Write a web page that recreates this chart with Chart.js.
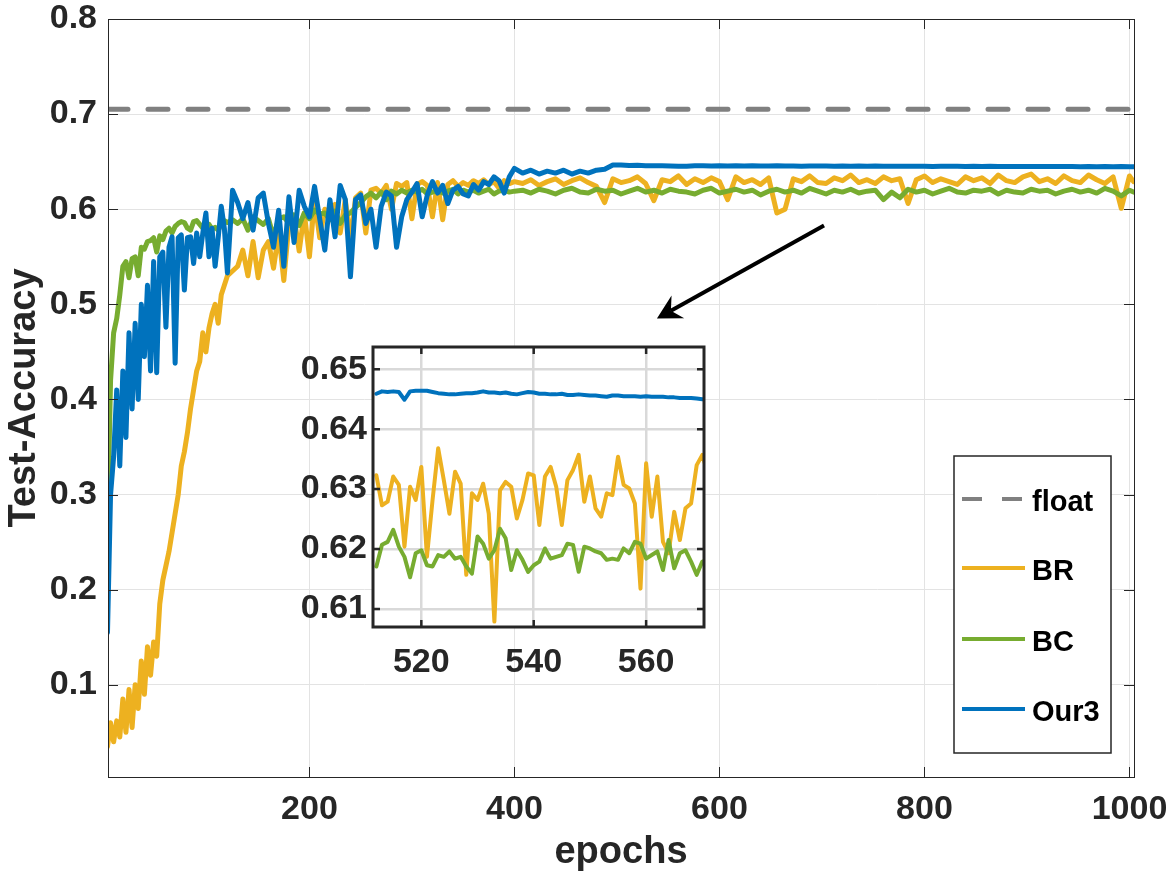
<!DOCTYPE html>
<html>
<head>
<meta charset="utf-8">
<script src="https://cdn.jsdelivr.net/npm/chart.js@4.4.1/dist/chart.umd.min.js"></script>
<style>
  body { margin: 0; background: #fff; }
  #wrap { position: relative; width: 1167px; height: 875px; }
  #main { position: absolute; left: 0; top: 0; }
  #inset { position: absolute; left: 280px; top: 335px; }
</style>
</head>
<body>
<div id="wrap">
  <canvas id="main" width="1167" height="875"></canvas>
  <canvas id="inset" width="440" height="360"></canvas>
</div>
<script>
// ---- main plot data (epoch grid + test accuracy) ----
let epochs = [
  3,6,9,12,15,18,21,24,
  27,30,33,36,39,42,45,48,
  51,54,57,60,63,66,69,72,
  75,78,81,84,87,90,93,96,
  99,102,105,108,111,114,117,120,
  125,130,135,140,145,150,155,160,
  165,170,175,180,185,190,195,200,
  205,210,215,220,225,230,235,240,
  245,250,255,260,265,270,275,280,
  285,290,295,300,305,310,315,320,
  325,330,335,340,345,350,355,360,
  365,370,375,380,385,390,395,400,
  408,416,424,432,440,448,456,464,
  472,480,488,496,504,512,520,528,
  536,544,552,560,568,576,584,592,
  600,608,616,624,632,640,648,656,
  664,672,680,688,696,704,712,720,
  728,736,744,752,760,768,776,784,
  792,800,808,816,824,832,840,848,
  856,864,872,880,888,896,904,912,
  920,928,936,944,952,960,968,976,
  984,992,1000,1004
];

let accBR = [
  0.035,0.06,0.04,0.062,0.045,0.085,0.05,0.095,
  0.055,0.1,0.075,0.125,0.09,0.14,0.11,0.145,
  0.13,0.185,0.21,0.225,0.24,0.26,0.28,0.3,
  0.33,0.345,0.365,0.39,0.41,0.43,0.44,0.47,
  0.45,0.475,0.49,0.5,0.48,0.51,0.52,0.53,
  0.535,0.54,0.557,0.53,0.566,0.528,0.557,0.566,
  0.538,0.575,0.525,0.585,0.592,0.556,0.596,0.55,
  0.61,0.57,0.6,0.592,0.605,0.575,0.61,0.568,
  0.612,0.617,0.575,0.62,0.622,0.617,0.625,0.6,
  0.627,0.624,0.628,0.59,0.626,0.629,0.625,0.592,
  0.628,0.589,0.626,0.63,0.624,0.628,0.625,0.63,
  0.627,0.631,0.626,0.629,0.622,0.63,0.627,0.629,
  0.627,0.631,0.625,0.629,0.632,0.626,0.63,0.633,
  0.628,0.624,0.607,0.632,0.628,0.63,0.634,0.627,
  0.609,0.631,0.629,0.635,0.626,0.632,0.628,0.633,
  0.629,0.61,0.634,0.628,0.631,0.626,0.633,0.596,
  0.6,0.632,0.629,0.635,0.628,0.627,0.633,0.63,
  0.636,0.628,0.631,0.627,0.634,0.63,0.632,0.606,
  0.631,0.635,0.628,0.632,0.629,0.626,0.634,0.63,
  0.633,0.627,0.636,0.63,0.628,0.634,0.637,0.629,
  0.632,0.627,0.635,0.63,0.628,0.636,0.631,0.627,
  0.634,0.601,0.635,0.629
];

let accBC = [
  0.27,0.42,0.47,0.485,0.51,0.54,0.545,0.528,
  0.548,0.55,0.53,0.56,0.558,0.566,0.567,0.57,
  0.555,0.572,0.568,0.577,0.58,0.575,0.582,0.585,
  0.587,0.586,0.58,0.578,0.587,0.588,0.584,0.58,
  0.582,0.584,0.579,0.581,0.578,0.584,0.588,0.586,
  0.589,0.585,0.59,0.578,0.592,0.588,0.584,0.59,
  0.571,0.59,0.592,0.585,0.594,0.583,0.596,0.59,
  0.599,0.595,0.596,0.589,0.598,0.585,0.594,0.596,
  0.602,0.607,0.613,0.617,0.612,0.618,0.61,0.619,
  0.616,0.62,0.617,0.62,0.618,0.621,0.616,0.618,
  0.62,0.617,0.619,0.621,0.616,0.62,0.618,0.62,
  0.617,0.619,0.621,0.616,0.619,0.62,0.618,0.619,
  0.62,0.617,0.621,0.619,0.616,0.62,0.622,0.618,
  0.617,0.621,0.619,0.62,0.616,0.619,0.622,0.618,
  0.62,0.617,0.621,0.619,0.618,0.616,0.62,0.622,
  0.617,0.619,0.621,0.618,0.62,0.615,0.619,0.621,
  0.618,0.62,0.617,0.622,0.619,0.616,0.62,0.618,
  0.621,0.617,0.619,0.62,0.61,0.618,0.612,0.621,
  0.618,0.62,0.616,0.619,0.622,0.618,0.617,0.62,
  0.619,0.621,0.616,0.62,0.618,0.617,0.621,0.619,
  0.62,0.616,0.619,0.621,0.618,0.62,0.617,0.622,
  0.619,0.614,0.62,0.618
];

let accOur3 = [
  0.155,0.30,0.34,0.41,0.33,0.43,0.36,0.47,
  0.39,0.48,0.40,0.50,0.445,0.52,0.43,0.545,
  0.428,0.55,0.555,0.476,0.56,0.571,0.438,0.57,
  0.573,0.515,0.57,0.571,0.543,0.575,0.55,0.575,
  0.596,0.55,0.58,0.54,0.57,0.603,0.58,0.533,
  0.62,0.607,0.59,0.607,0.578,0.612,0.617,0.585,
  0.56,0.599,0.54,0.613,0.565,0.62,0.603,0.592,
  0.624,0.59,0.557,0.61,0.571,0.625,0.61,0.529,
  0.61,0.615,0.585,0.6,0.56,0.603,0.618,0.614,
  0.56,0.592,0.61,0.618,0.627,0.592,0.615,0.629,
  0.617,0.625,0.606,0.62,0.624,0.616,0.614,0.626,
  0.62,0.629,0.626,0.634,0.63,0.617,0.634,0.643,
  0.638,0.641,0.637,0.64,0.638,0.641,0.637,0.64,
  0.638,0.641,0.642,0.6465,0.6466,0.6459,0.6461,0.6458,
  0.6457,0.6456,0.6454,0.6453,0.6451,0.6456,0.6458,0.6455,
  0.6456,0.6454,0.6456,0.6455,0.6457,0.6454,0.6455,0.6456,
  0.6454,0.6455,0.6453,0.6455,0.6454,0.6455,0.6453,0.6454,
  0.6452,0.6454,0.6453,0.6454,0.6452,0.6453,0.6452,0.6453,
  0.6451,0.6452,0.645,0.6452,0.6451,0.6452,0.645,0.6451,
  0.645,0.6451,0.6449,0.645,0.6449,0.645,0.6449,0.645,
  0.6448,0.6449,0.6448,0.6449,0.6447,0.6448,0.6447,0.6448,
  0.6447,0.6448,0.6447,0.6447
];

let floatAcc = 0.705;

let xTicks = [200, 400, 600, 800, 1000];
let yTicks = [0.1, 0.2, 0.3, 0.4, 0.5, 0.6, 0.7, 0.8];
let yTickLabels = ["0.1","0.2","0.3","0.4","0.5","0.6","0.7","0.8"];

// ---- zoomed inset data (epochs 512..571) ----
let zoomEpochs = [
  512,513,514,515,516,517,518,519,520,521,
  522,523,524,525,526,527,528,529,530,531,
  532,533,534,535,536,537,538,539,540,541,
  542,543,544,545,546,547,548,549,550,551,
  552,553,554,555,556,557,558,559,560,561,
  562,563,564,565,566,567,568,569,570,571
];

let zoomBR = [
  0.6323,0.6273,0.6279,0.6321,0.6307,0.6204,0.6304,0.6282,0.6337,0.6187,
  0.6282,0.6368,0.6315,0.6259,0.6329,0.6309,0.6157,0.6293,0.6282,0.6309,
  0.6259,0.6079,0.6298,0.6312,0.6304,0.6251,0.6282,0.6326,0.6323,0.6240,
  0.6321,0.6337,0.6304,0.6240,0.6315,0.6332,0.6357,0.6279,0.6321,0.6268,
  0.6254,0.6293,0.6290,0.6354,0.6307,0.6301,0.6276,0.6134,0.6343,0.6254,
  0.6321,0.6212,0.6193,0.6262,0.6215,0.6268,0.6276,0.6340,0.6357,0.6326
];

let zoomBC = [
  0.6171,0.6207,0.6212,0.6232,0.6204,0.6187,0.6153,0.6193,0.6198,0.6173,
  0.6171,0.6190,0.6187,0.6196,0.6184,0.6187,0.6171,0.6159,0.6221,0.6209,
  0.6184,0.6198,0.6234,0.6218,0.6165,0.6198,0.6182,0.6162,0.6173,0.6179,
  0.6201,0.6184,0.6187,0.6190,0.6209,0.6207,0.6162,0.6204,0.6201,0.6196,
  0.6193,0.6182,0.6184,0.6182,0.6201,0.6193,0.6212,0.6209,0.6184,0.6190,
  0.6196,0.6165,0.6215,0.6168,0.6193,0.6198,0.6179,0.6157,0.6179,0.6182
];

let zoomOur3 = [
  0.6459,0.6463,0.6462,0.6463,0.6462,0.6449,0.6463,0.6464,0.6464,0.6464,
  0.6462,0.6460,0.6459,0.6458,0.6458,0.6459,0.6460,0.6460,0.6461,0.6463,
  0.6461,0.6461,0.6460,0.6461,0.6459,0.6458,0.6460,0.6462,0.6461,0.6459,
  0.6459,0.6458,0.6458,0.6459,0.6457,0.6457,0.6458,0.6457,0.6456,0.6456,
  0.6455,0.6454,0.6456,0.6456,0.6455,0.6455,0.6455,0.6454,0.6455,0.6454,
  0.6454,0.6454,0.6453,0.6453,0.6452,0.6452,0.6452,0.6451,0.6450,0.6450
];

let zoomXTicks = [520, 540, 560];
let zoomYTicks = [0.61, 0.62, 0.63, 0.64, 0.65];
let zoomYTickLabels = ["0.61","0.62","0.63","0.64","0.65"];

let seriesNames = ["float", "BR", "BC", "Our3"];
let seriesColors = ["#808080", "#EDB120", "#77AC30", "#0072BD"];

// arrow from the main curves down to the inset, in data units
let arrowFrom = [702, 0.583];
let arrowTo = [539, 0.485];

Chart.defaults.font.family = "'Liberation Sans', Arial, Helvetica, sans-serif";
Chart.defaults.font.weight = "bold";
Chart.defaults.color = "#262626";

function toPoints(xs, ys){
  return xs.map(function(x, i){
    return { x: x, y: ys[i] };
  });
}

// keep tick labels from pushing the plot area around
function fixSize(w, h){
  return function(s){
    if(w !== null) s.width = w;
    if(h !== null) s.height = h;
    s.paddingLeft = 0;
    s.paddingRight = 0;
    s.paddingTop = 0;
    s.paddingBottom = 0;
  };
}

let axisColor = "#262626";

// box, inner tick marks, legend and arrow for the main axes
let mainDecor = {
  id: "mainDecor",
  afterDraw: function(chart){
    let ctx = chart.ctx;
    let a = chart.chartArea;
    let xs = chart.scales.x;
    let ys = chart.scales.y;

    ctx.save();
    ctx.strokeStyle = axisColor;
    ctx.lineWidth = 1;
    ctx.strokeRect(Math.round(a.left) + 0.5, Math.round(a.top) + 0.5,
      Math.round(a.right - a.left), Math.round(a.bottom - a.top));

    ctx.beginPath();
    xTicks.forEach(function(t){
      let px = Math.round(xs.getPixelForValue(t)) + 0.5;
      ctx.moveTo(px, a.bottom); ctx.lineTo(px, a.bottom - 10);
      ctx.moveTo(px, a.top); ctx.lineTo(px, a.top + 10);
    });
    yTicks.forEach(function(t){
      let py = Math.round(ys.getPixelForValue(t)) + 0.5;
      ctx.moveTo(a.left, py); ctx.lineTo(a.left + 10, py);
      ctx.moveTo(a.right, py); ctx.lineTo(a.right - 10, py);
    });
    ctx.stroke();

    // arrow
    let x1 = xs.getPixelForValue(arrowFrom[0]);
    let y1 = ys.getPixelForValue(arrowFrom[1]);
    let x2 = xs.getPixelForValue(arrowTo[0]);
    let y2 = ys.getPixelForValue(arrowTo[1]);
    let len = Math.hypot(x1 - x2, y1 - y2);
    let ux = (x1 - x2) / len, uy = (y1 - y2) / len;
    let px = -uy, py = ux;
    let L = 24, W = 13, N = 16;
    ctx.strokeStyle = "#000";
    ctx.fillStyle = "#000";
    ctx.lineWidth = 4;
    ctx.lineCap = "butt";
    ctx.beginPath();
    ctx.moveTo(x1, y1);
    ctx.lineTo(x2 + ux * N, y2 + uy * N);
    ctx.stroke();
    ctx.beginPath();
    ctx.moveTo(x2, y2);
    ctx.lineTo(x2 + ux * L + px * W, y2 + uy * L + py * W);
    ctx.lineTo(x2 + ux * N, y2 + uy * N);
    ctx.lineTo(x2 + ux * L - px * W, y2 + uy * L - py * W);
    ctx.closePath();
    ctx.fill();

    // legend
    let lx = 954, ly = 456, lw = 157, lh = 297;
    ctx.fillStyle = "#fff";
    ctx.fillRect(lx, ly, lw, lh);
    ctx.strokeStyle = axisColor;
    ctx.lineWidth = 1.5;
    ctx.strokeRect(lx, ly, lw, lh);
    let rows = [499, 568, 639, 709];
    ctx.font = "bold 29px 'Liberation Sans', Arial, sans-serif";
    ctx.textBaseline = "alphabetic";
    ctx.textAlign = "left";
    seriesNames.forEach(function(name, i){
      ctx.strokeStyle = seriesColors[i];
      ctx.lineWidth = 4;
      ctx.setLineDash(i === 0 ? [20, 20] : []);
      ctx.beginPath();
      ctx.moveTo(962, rows[i]);
      ctx.lineTo(1025, rows[i]);
      ctx.stroke();
      ctx.setLineDash([]);
      ctx.fillStyle = "#000";
      ctx.fillText(name, 1032, rows[i] + 12);
    });
    ctx.restore();
  }
};

let mainChart = new Chart(document.getElementById("main"), {
  type: "line",
  data: {
    datasets: [
      {
        label: seriesNames[0],
        data: [{ x: 3.5, y: floatAcc }, { x: 1004.4, y: floatAcc }],
        borderColor: seriesColors[0],
        borderWidth: 5,
        borderDash: [20, 20],
        order: 3
      },
      {
        label: seriesNames[1],
        data: toPoints(epochs, accBR),
        borderColor: seriesColors[1],
        borderWidth: 5,
        order: 2
      },
      {
        label: seriesNames[2],
        data: toPoints(epochs, accBC),
        borderColor: seriesColors[2],
        borderWidth: 5,
        order: 1
      },
      {
        label: seriesNames[3],
        data: toPoints(epochs, accOur3),
        borderColor: seriesColors[3],
        borderWidth: 5,
        order: 0
      }
    ]
  },
  options: {
    responsive: false,
    animation: false,
    devicePixelRatio: 1,
    layout: { padding: { left: 0, top: 19, right: 33, bottom: 0 } },
    elements: {
      point: { radius: 0 },
      line: { tension: 0, borderJoinStyle: "round", borderCapStyle: "round" }
    },
    plugins: { legend: { display: false }, tooltip: { enabled: false } },
    scales: {
      x: {
        type: "linear",
        min: 3.5,
        max: 1004.4,
        afterFit: fixSize(null, 98),
        afterBuildTicks: function(s){ s.ticks = xTicks.map(function(v){ return { value: v }; }); },
        grid: { color: "#e3e3e3", lineWidth: 1, drawTicks: false },
        border: { display: false },
        ticks: {
          padding: 12,
          autoSkip: false,
          maxRotation: 0,
          color: "#262626",
          font: { size: 34, weight: "bold" },
          callback: function(v){ return String(v); }
        },
        title: {
          display: true,
          text: "epochs",
          color: "#262626",
          font: { size: 38, weight: "bold" },
          padding: 0
        }
      },
      y: {
        type: "linear",
        min: 0.003,
        max: 0.8,
        afterFit: fixSize(108, null),
        afterBuildTicks: function(s){ s.ticks = yTicks.map(function(v){ return { value: v }; }); },
        grid: { color: "#e3e3e3", lineWidth: 1, drawTicks: false },
        border: { display: false },
        ticks: {
          padding: 11,
          autoSkip: false,
          color: "#262626",
          font: { size: 34, weight: "bold" },
          callback: function(v, i){ return yTickLabels[i]; }
        },
        title: {
          display: true,
          text: "Test-Accuracy",
          color: "#262626",
          font: { size: 38, weight: "bold" },
          padding: 2
        }
      }
    }
  },
  plugins: [mainDecor]
});

// white face, thick box and inner ticks for the inset
let insetDecor = {
  id: "insetDecor",
  beforeDraw: function(chart){
    let a = chart.chartArea;
    chart.ctx.save();
    chart.ctx.fillStyle = "#fff";
    chart.ctx.fillRect(a.left, a.top, a.right - a.left, a.bottom - a.top);
    chart.ctx.restore();
  },
  afterDraw: function(chart){
    let ctx = chart.ctx;
    let a = chart.chartArea;
    let xs = chart.scales.x;
    let ys = chart.scales.y;
    ctx.save();
    ctx.strokeStyle = axisColor;
    ctx.lineWidth = 3;
    ctx.strokeRect(a.left, a.top, a.right - a.left, a.bottom - a.top);
    ctx.lineWidth = 2.5;
    ctx.beginPath();
    zoomXTicks.forEach(function(t){
      let px = xs.getPixelForValue(t);
      ctx.moveTo(px, a.bottom); ctx.lineTo(px, a.bottom - 7);
      ctx.moveTo(px, a.top); ctx.lineTo(px, a.top + 7);
    });
    zoomYTicks.forEach(function(t){
      let py = ys.getPixelForValue(t);
      ctx.moveTo(a.left, py); ctx.lineTo(a.left + 7, py);
      ctx.moveTo(a.right, py); ctx.lineTo(a.right - 7, py);
    });
    ctx.stroke();
    ctx.restore();
  }
};

let insetChart = new Chart(document.getElementById("inset"), {
  type: "line",
  data: {
    datasets: [
      { label: seriesNames[1], data: toPoints(zoomEpochs, zoomBR), borderColor: seriesColors[1], borderWidth: 4, order: 2 },
      { label: seriesNames[2], data: toPoints(zoomEpochs, zoomBC), borderColor: seriesColors[2], borderWidth: 4, order: 1 },
      { label: seriesNames[3], data: toPoints(zoomEpochs, zoomOur3), borderColor: seriesColors[3], borderWidth: 4, order: 0 }
    ]
  },
  options: {
    responsive: false,
    animation: false,
    devicePixelRatio: 1,
    layout: { padding: { left: 0, top: 12, right: 16, bottom: 0 } },
    elements: {
      point: { radius: 0 },
      line: { tension: 0, borderJoinStyle: "round", borderCapStyle: "round" }
    },
    plugins: { legend: { display: false }, tooltip: { enabled: false } },
    scales: {
      x: {
        type: "linear",
        min: 511.4,
        max: 570.3,
        afterFit: fixSize(null, 68),
        afterBuildTicks: function(s){ s.ticks = zoomXTicks.map(function(v){ return { value: v }; }); },
        grid: { color: "#d9d9d9", lineWidth: 2.5, drawTicks: false },
        border: { display: false },
        ticks: {
          padding: 15,
          autoSkip: false,
          maxRotation: 0,
          color: "#262626",
          font: { size: 34, weight: "bold" },
          callback: function(v){ return String(v); }
        }
      },
      y: {
        type: "linear",
        min: 0.607,
        max: 0.6537,
        afterFit: fixSize(93, null),
        afterBuildTicks: function(s){ s.ticks = zoomYTicks.map(function(v){ return { value: v }; }); },
        grid: { color: "#d9d9d9", lineWidth: 2.5, drawTicks: false },
        border: { display: false },
        ticks: {
          padding: 6,
          autoSkip: false,
          color: "#262626",
          font: { size: 34, weight: "bold" },
          callback: function(v, i){ return zoomYTickLabels[i]; }
        }
      }
    }
  },
  plugins: [insetDecor]
});
</script>
</body>
</html>
